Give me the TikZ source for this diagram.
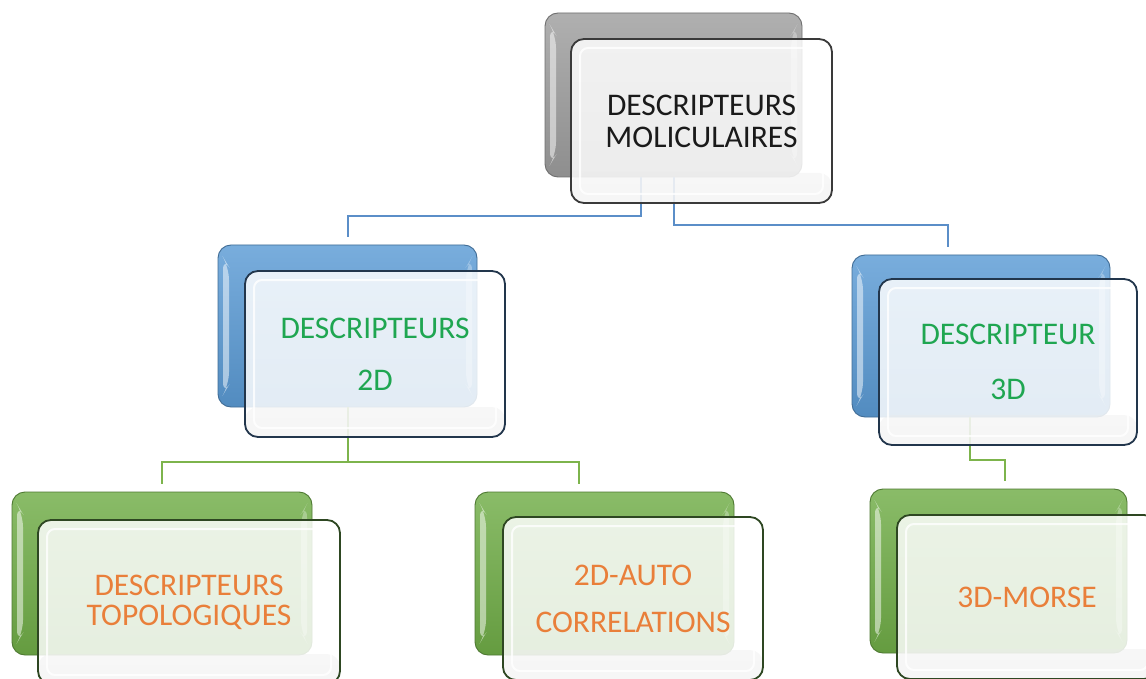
\documentclass[tikz,border=0pt]{standalone}
\usepackage{fontspec}
\setmainfont{Carlito}
\usetikzlibrary{calc}

\definecolor{grayback}{HTML}{9E9E9E}
\definecolor{blueback}{HTML}{5B9BD5}
\definecolor{greenback}{HTML}{70AD47}
\definecolor{grayedge}{HTML}{3A3A3A}
\definecolor{blueedge}{HTML}{22364C}
\definecolor{greenedge}{HTML}{2E4722}
\definecolor{blueline}{HTML}{5B8EC8}
\definecolor{greenline}{HTML}{7DB44C}
\definecolor{txtgreen}{HTML}{1FA651}
\definecolor{txtorange}{HTML}{E97F3A}
\definecolor{txtdark}{HTML}{1A1A1A}

\tikzset{
  % glossy coloured card at the back
  backbox/.style={
    rounded corners=13pt, draw=#1!70!black, line width=0.9pt,
    top color=#1!82!white, bottom color=#1!90!black,
    minimum width=259pt, minimum height=163pt, inner sep=0pt,
    path picture={
      \fill[white, opacity=.5]
        ([xshift=5pt,yshift=-12pt]path picture bounding box.north west)
        -- ([xshift=11pt,yshift=-22pt]path picture bounding box.north west)
        -- ([xshift=11pt,yshift=22pt]path picture bounding box.south west)
        -- ([xshift=5pt,yshift=12pt]path picture bounding box.south west) -- cycle;
      \fill[white, opacity=.3]
        ([xshift=-5pt,yshift=-12pt]path picture bounding box.north east)
        -- ([xshift=-11pt,yshift=-22pt]path picture bounding box.north east)
        -- ([xshift=-11pt,yshift=22pt]path picture bounding box.south east)
        -- ([xshift=-5pt,yshift=12pt]path picture bounding box.south east) -- cycle;
    }},
  % translucent white card in front
  frontbox/.style={
    rounded corners=13pt, draw=#1, line width=1.8pt,
    fill=white, fill opacity=.84, text opacity=1,
    minimum width=260pt, minimum height=164pt, inner sep=0pt, align=center,
    font=\fontsize{31.5}{32}\selectfont,
    path picture={
      \shade[top color=white, bottom color=black!10, opacity=.35]
        ([yshift=30pt]path picture bounding box.south west)
        rectangle (path picture bounding box.south east);
      \draw[white, line width=2pt, opacity=.8, rounded corners=8pt]
        ([xshift=9pt,yshift=-9pt]path picture bounding box.north west)
        rectangle ([xshift=-9pt,yshift=9pt]path picture bounding box.south east);
    }},
  conn/.style={draw=#1, line width=2pt, shorten >=8pt}
}

\begin{document}
\begin{tikzpicture}[x=1pt, y=-1pt]
  \useasboundingbox (0,0) rectangle (1146,679);
  \fill[white] (0,0) rectangle (1146,679);
  \clip (0,0) rectangle (1146,679);

  % back cards
  \node[backbox=grayback, minimum width=257pt, minimum height=164pt] (topB) at (673.5,95) {};
  \node[backbox=blueback, minimum height=162pt] (d2B) at (347.5,326) {};
  \node[backbox=blueback, minimum width=258pt, minimum height=162pt] (d3B) at (981,336) {};
  \node[backbox=greenback, minimum width=300pt] (topoB) at (162,573.5) {};
  \node[backbox=greenback] (autoB) at (604.5,573.5) {};
  \node[backbox=greenback, minimum width=257pt, minimum height=164pt] (morseB) at (998.5,571) {};

  % connectors
  \draw[conn=blueline] ([xshift=-33pt]topB.south) -- ++(0,39) -| (d2B.north);
  \draw[conn=blueline] (topB.south) -- ++(0,48) -| ([xshift=-33pt]d3B.north);
  \draw[conn=greenline] (d2B.south) -- ++(0,55) coordinate (j2) -| (topoB.north);
  \draw[conn=greenline] (j2) -| ([xshift=-26pt]autoB.north);
  \draw[conn=greenline] ([xshift=-11pt]d3B.south) -- ++(0,43) -| ([xshift=6.5pt]morseB.north);

  % front cards
  \node[frontbox=grayedge, minimum width=261pt, text=txtdark] (topF) at (701.5,121)
    {DESCRIPTEURS\\MOLICULAIRES};
  \node[frontbox=blueedge, minimum height=166pt, text=txtgreen] (d2F) at (375,354)
    {DESCRIPTEURS\\[20pt]2D};
  \node[frontbox=blueedge, minimum width=258pt, minimum height=166pt, text=txtgreen] (d3F) at (1008,362)
    {DESCRIPTEUR\\[23pt]3D};
  \node[frontbox=greenedge, minimum width=302pt, text=txtorange,
        font=\fontsize{31.5}{30}\selectfont] (topoF) at (189,602)
    {DESCRIPTEURS\\TOPOLOGIQUES};
  \node[frontbox=greenedge, minimum height=163pt, text=txtorange] (autoF) at (633,598.5)
    {2D-AUTO\\[15pt]CORRELATIONS};
  \node[frontbox=greenedge, text=txtorange] (morseF) at (1027,597) {3D-MORSE};
\end{tikzpicture}
\end{document}
